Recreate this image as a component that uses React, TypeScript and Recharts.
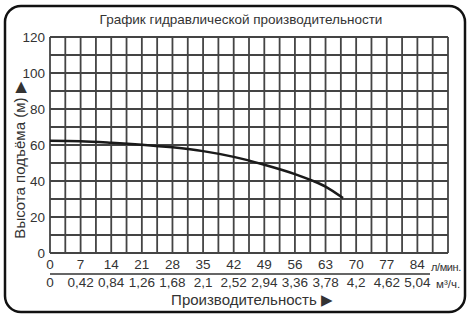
import React from "react";
import { LineChart, Line, XAxis, YAxis, CartesianGrid } from "recharts";

const flowLpm = [0, 7, 14, 21, 28, 35, 42, 49, 56, 60, 63, 67];
const headM = [62.3, 62.1, 61.3, 60.2, 58.7, 56.6, 53.4, 49, 43.8, 40.2, 36.9, 30.5];
const xDomain = [0, 91];
const yDomain = [0, 120];
const xGridTicks = Array.from({ length: 27 }, (_, i) => i * 3.5);
const xLabelTicks = [0, 7, 14, 21, 28, 35, 42, 49, 56, 63, 70, 77, 84];
const yGridTicks = [0, 10, 20, 30, 40, 50, 60, 70, 80, 90, 100, 110, 120];
const yLabelTicks = [0, 20, 40, 60, 80, 100, 120];

const data = flowLpm.map((q, i) => ({ q, h: headM[i] }));

const FONT = "'Liberation Sans Narrow', 'Liberation Sans', Arial, sans-serif";

const fmtM = (v: number) => String(Math.round(v * 0.06 * 100) / 100).replace(".", ",");

const hGen = (props: any) => {
  const s = props?.yAxis?.scale;
  if (typeof s === "function") return yGridTicks.map((v) => s(v));
  const o = props.offset;
  return yGridTicks.map(
    (v) => o.top + o.height * (1 - (v - yDomain[0]) / (yDomain[1] - yDomain[0]))
  );
};
const vGen = (props: any) => {
  const s = props?.xAxis?.scale;
  if (typeof s === "function") return xGridTicks.map((v) => s(v));
  const o = props.offset;
  return xGridTicks.map(
    (v) => o.left + (o.width * (v - xDomain[0])) / (xDomain[1] - xDomain[0])
  );
};

export default function App() {
  return (
    <div style={{ position: "absolute", left: 0, top: 0, width: 471, height: 318, background: "#fff" }}>
      <LineChart
        width={471}
        height={318}
        data={data}
        margin={{ top: 37, right: 23, left: 0, bottom: 23 }}
      >
        <CartesianGrid
          xAxisId="l"
          stroke="#444"
          strokeWidth={1.8}
          horizontalCoordinatesGenerator={hGen}
          verticalCoordinatesGenerator={vGen}
        />
        <XAxis
          xAxisId="l"
          dataKey="q"
          type="number"
          domain={xDomain}
          ticks={xLabelTicks}
          interval={0}
          axisLine={false}
          tickLine={false}
          tickSize={0}
          tickMargin={6}
          height={21}
          tick={{ fill: "#333", fontSize: 13.5, fontFamily: FONT }}
        />
        <XAxis
          xAxisId="m"
          dataKey="q"
          type="number"
          domain={xDomain}
          ticks={xLabelTicks}
          interval={0}
          tickFormatter={fmtM}
          axisLine={false}
          tickLine={false}
          tickSize={0}
          tickMargin={3}
          height={21}
          tick={{ fill: "#333", fontSize: 13.5, fontFamily: FONT }}
        />
        <YAxis
          type="number"
          domain={yDomain}
          ticks={yLabelTicks}
          interval={0}
          axisLine={false}
          tickLine={false}
          tickSize={0}
          tickMargin={5}
          width={50}
          tick={{ fill: "#333", fontSize: 13.5, fontFamily: FONT }}
        />
        <Line
          xAxisId="l"
          type="monotone"
          dataKey="h"
          stroke="#1a1a1a"
          strokeWidth={2.5}
          dot={false}
          isAnimationActive={false}
        />
      </LineChart>
      <svg
        width={471}
        height={318}
        style={{ position: "absolute", left: 0, top: 0, pointerEvents: "none" }}
      >
        <rect x={5} y={6} width={460} height={306} rx={16} ry={16} fill="none" stroke="#111" strokeWidth={2.5} />
        <text x={241} y={24} textAnchor="middle" fontSize={13.5} fill="#333" fontFamily={FONT}>
          График гидравлической производительности
        </text>
        <text
          x={0}
          y={0}
          transform="translate(25,160) rotate(-90)"
          textAnchor="middle"
          fontSize={15}
          fill="#333"
          fontFamily={FONT}
        >
          Высота подъёма (м) ▶
        </text>
        <line x1={50} y1={274} x2={430} y2={274} stroke="#333" strokeWidth={1.5} />
        <text x={431} y={271} fontSize={11} letterSpacing={-0.4} fill="#333" fontFamily={FONT}>л/мин.</text>
        <text x={436} y={288} fontSize={11.5} fill="#333" fontFamily={FONT}>м³/ч.</text>
        <text x={252} y={305} textAnchor="middle" fontSize={15} fill="#333" fontFamily={FONT}>
          Производительность ▶
        </text>
      </svg>
    </div>
  );
}
